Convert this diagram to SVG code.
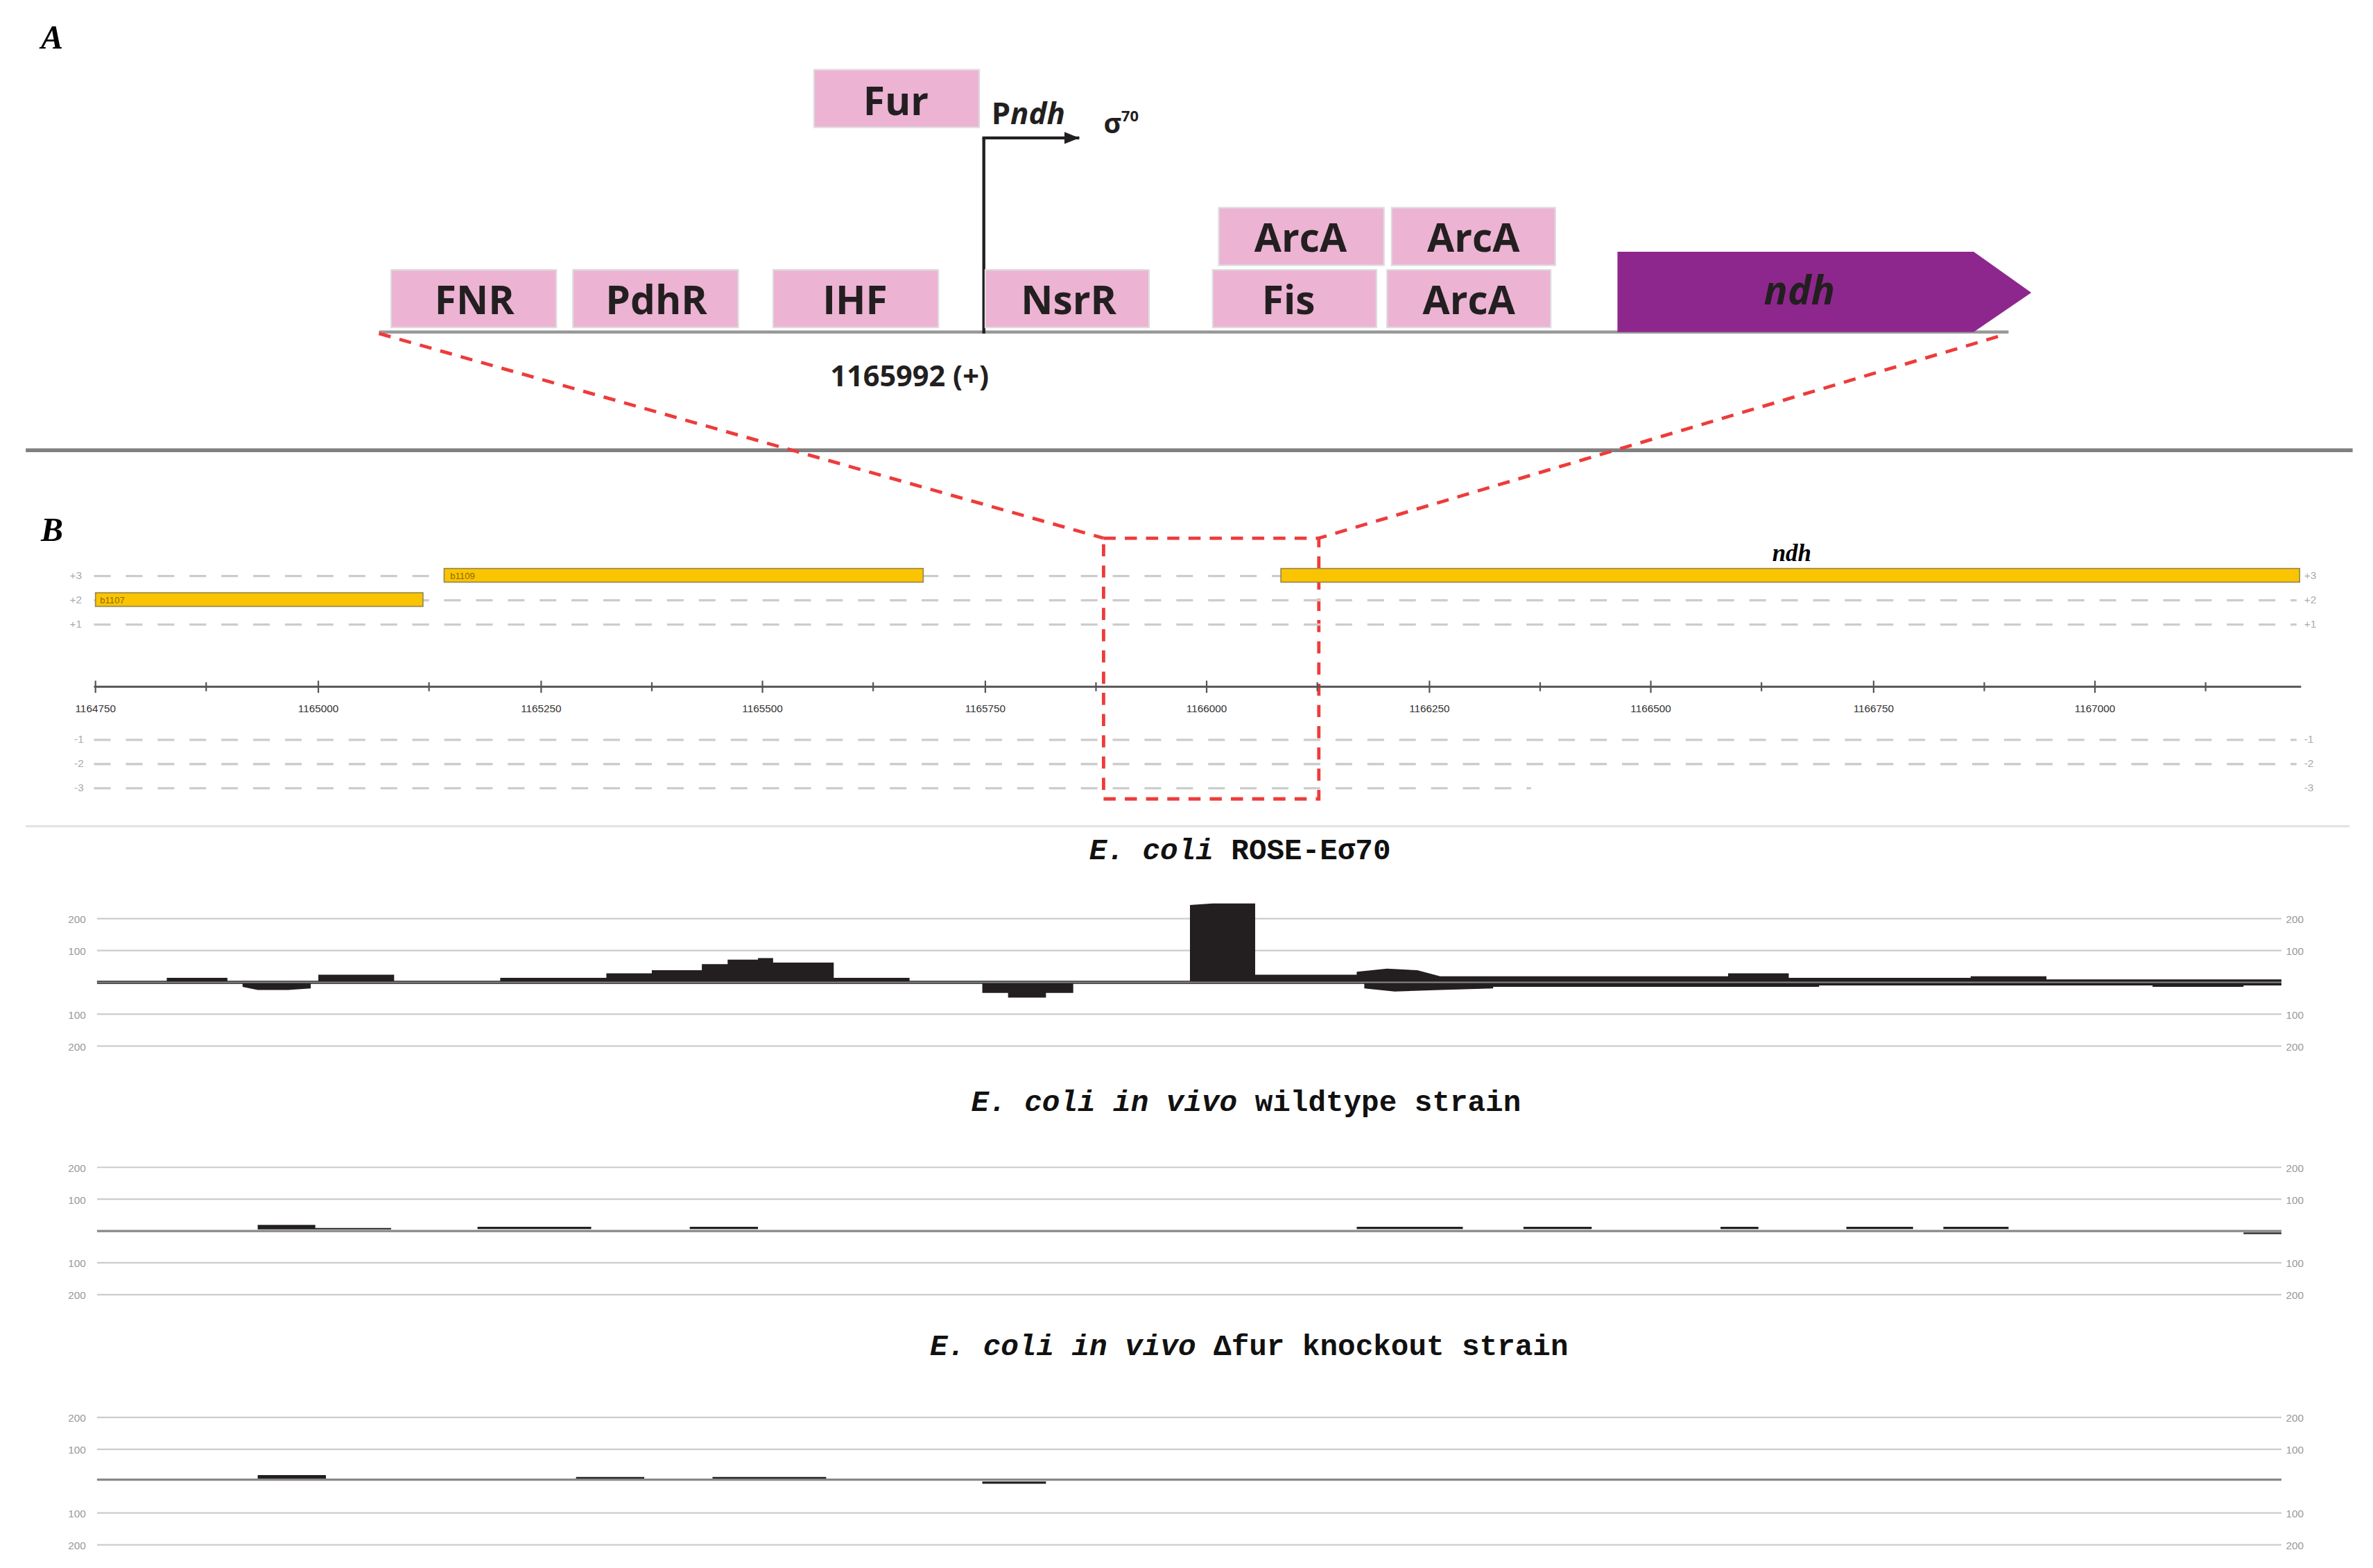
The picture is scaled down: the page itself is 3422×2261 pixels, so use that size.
<svg xmlns="http://www.w3.org/2000/svg" width="3422" height="2261" viewBox="0 0 3422 2261">
<defs>
<style>
.box{fill:#ecb3d3;stroke:#ddd;stroke-width:1}
.bt{font-family:"Open Sans","DejaVu Sans",sans-serif;font-weight:bold;font-size:26px;text-anchor:middle;fill:#231f20}
.red{stroke:#ee3b3b;stroke-width:2.2;stroke-dasharray:8,6;fill:none}
.fr{stroke:#ccc;stroke-width:1.5;stroke-dasharray:11,10}
.fl{font-family:"Liberation Sans",sans-serif;font-size:7px;fill:#aaa}
.ax{font-family:"Liberation Sans",sans-serif;font-size:7px;fill:#333;text-anchor:middle}
.gl{stroke:#ccc;stroke-width:1}
.gt{font-family:"Liberation Sans",sans-serif;font-size:7px;fill:#999}
.tt{font-family:"Liberation Mono","Courier New",monospace;font-weight:bold;font-size:19.5px;text-anchor:middle;fill:#111}
.gene{fill:#fbc400;stroke:#9a8a50;stroke-width:0.8}
.sig{fill:#231f20}
</style>
<marker id="ah" markerWidth="6" markerHeight="6" refX="5" refY="3" orient="auto"><path d="M0,1 L5,3 L0,5z" fill="#231f20"/></marker>
</defs>
<rect width="3422" height="2261" fill="#fff"/>
<g transform="scale(2.186)">
<text x="27" y="32" font-family="Liberation Serif,serif" font-weight="bold" font-style="italic" font-size="22">A</text>
<text x="27" y="357" font-family="Liberation Serif,serif" font-weight="bold" font-style="italic" font-size="22">B</text>
<g id="connectors">
<line x1="250" y1="219" x2="1325" y2="219" stroke="#999" stroke-width="2"/>
<line x1="649" y1="220" x2="649" y2="91" stroke="#231f20" stroke-width="2"/>
<line x1="648" y1="91" x2="712" y2="91" stroke="#231f20" stroke-width="2" marker-end="url(#ah)"/>
<line x1="17" y1="297" x2="1552" y2="297" stroke="#808080" stroke-width="2.5"/>
<path class="red" d="M250,220 L728,355 M1318,222 L870,355"/>
<rect class="red" x="728" y="355" width="142" height="172"/>
<line x1="17" y1="545" x2="1550" y2="545" stroke="#e2e2e8" stroke-width="1.5"/>
</g>
<g id="fur"><rect class="box" x="537" y="46" width="109" height="38"/><text class="bt" x="591" y="76">Fur</text></g>
<text x="654" y="82" font-family="Open Sans,sans-serif" font-weight="bold" font-size="20" fill="#231f20">P<tspan font-style="italic">ndh</tspan></text>
<text x="728" y="88" font-family="Open Sans,sans-serif" font-weight="bold" font-size="18" fill="#231f20">σ<tspan font-size="10" dy="-8">70</tspan></text>
<g id="fnr"><rect class="box" x="258" y="178" width="109" height="38"/><text class="bt" x="313" y="207">FNR</text></g>
<g id="pdhr"><rect class="box" x="378" y="178" width="109" height="38"/><text class="bt" x="433" y="207">PdhR</text></g>
<g id="ihf"><rect class="box" x="510" y="178" width="109" height="38"/><text class="bt" x="564" y="207">IHF</text></g>
<g id="nsrr"><rect class="box" x="650" y="178" width="108" height="38"/><text class="bt" x="705" y="207">NsrR</text></g>
<g id="fis"><rect class="box" x="800" y="178" width="108" height="38"/><text class="bt" x="850" y="207">Fis</text></g>
<g id="arca1"><rect class="box" x="915" y="178" width="108" height="38"/><text class="bt" x="969" y="207">ArcA</text></g>
<g id="arca2"><rect class="box" x="804" y="137" width="109" height="38"/><text class="bt" x="858" y="166">ArcA</text></g>
<g id="arca3"><rect class="box" x="918" y="137" width="108" height="38"/><text class="bt" x="972" y="166">ArcA</text></g>
<g id="ndh"><path d="M1067,166 L1302,166 L1340,193 L1302,219 L1067,219z" fill="#8e278d"/><text class="bt" x="1187" y="201" font-style="italic">ndh</text></g>
<text x="600" y="255" font-family="Open Sans,sans-serif" font-weight="bold" font-size="19" text-anchor="middle" fill="#231f20">1165992 (+)</text>

<g id="tracks">
<line class="fr" x1="62" y1="380" x2="1515" y2="380"/>
<line class="fr" x1="62" y1="396" x2="1515" y2="396"/>
<line class="fr" x1="62" y1="412" x2="1515" y2="412"/>
<line class="fr" x1="62" y1="488" x2="1515" y2="488"/>
<line class="fr" x1="62" y1="504" x2="1515" y2="504"/>
<line class="fr" x1="62" y1="520" x2="1010" y2="520"/>
<g class="fl"><text x="46" y="382">+3</text><text x="46" y="398">+2</text><text x="46" y="414">+1</text><text x="49" y="490">-1</text><text x="49" y="506">-2</text><text x="49" y="522">-3</text>
<text x="1520" y="382">+3</text><text x="1520" y="398">+2</text><text x="1520" y="414">+1</text><text x="1520" y="490">-1</text><text x="1520" y="506">-2</text><text x="1520" y="522">-3</text></g>
<rect class="gene" x="293" y="375" width="316" height="9"/><text x="297" y="382" font-family="Liberation Sans,sans-serif" font-size="6" fill="#8a6a00">b1109</text>
<rect class="gene" x="63" y="391" width="216" height="9"/><text x="66" y="398" font-family="Liberation Sans,sans-serif" font-size="6" fill="#8a6a00">b1107</text>
<rect class="gene" x="845" y="375" width="672" height="9"/>
<text x="1182" y="370" font-family="Liberation Serif,serif" font-weight="bold" font-style="italic" font-size="16" text-anchor="middle">ndh</text>
<line x1="62" y1="453" x2="1518" y2="453" stroke="#555" stroke-width="1.3"/>
<path d="M63,449v8M136,450v6M210,449v8M283,450v6M357,449v8M430,450v6M503,449v8M576,450v6M650,449v8M723,450v6M796,449v8M869,450v6M943,449v8M1016,450v6M1089,449v8M1162,450v6M1236,449v8M1309,450v6M1382,449v8M1455,450v6" stroke="#555" stroke-width="1"/>
<g class="ax"><text x="63" y="470">1164750</text><text x="210" y="470">1165000</text><text x="357" y="470">1165250</text><text x="503" y="470">1165500</text><text x="650" y="470">1165750</text><text x="796" y="470">1166000</text><text x="943" y="470">1166250</text><text x="1089" y="470">1166500</text><text x="1236" y="470">1166750</text><text x="1382" y="470">1167000</text></g>
</g>

<text class="tt" x="818" y="567"><tspan font-style="italic">E. coli</tspan> ROSE-Eσ70</text>
<text class="tt" x="822" y="733"><tspan font-style="italic">E. coli in vivo</tspan> wildtype strain</text>
<text class="tt" x="824" y="894"><tspan font-style="italic">E. coli in vivo</tspan> Δfur knockout strain</text>

<g id="track1">
<path class="gl" d="M64,606H1505M64,627H1505M64,669H1505M64,690H1505"/>
<path class="sig" d="M64,647 H110 V645 H150 V647 H210 V643 H260 V647 H330 V645 H400 V642 H430 V640 H463 V636 H480 V633 H500 V632 H510 V635 H550 V645 H600 V647 H785 V597 L800,596 L828,596 V643 H895 V641 L915,639 L935,640 L950,644 H1100 V644 H1140 V642 H1180 V645 H1300 V644 H1350 V646 H1505 V650 H1480 V651 H1420 V650 H1200 V651 H985 V652 L950,653 L920,654 L900,652 V649 H708 V655 H690 V658 H665 V655 H648 V649 H205 V652 L190,653 H170 L160,651 V649 H64z"/>
<line x1="64" y1="648" x2="1505" y2="648" stroke="#888" stroke-width="1"/>
<g class="gt"><text x="45" y="609">200</text><text x="45" y="630">100</text><text x="45" y="672">100</text><text x="45" y="693">200</text>
<text x="1508" y="609">200</text><text x="1508" y="630">100</text><text x="1508" y="672">100</text><text x="1508" y="693">200</text></g>
</g>
<g id="track2">
<path class="gl" d="M64,770H1505M64,791H1505M64,833H1505M64,854H1505"/>
<path class="sig" d="M64,811 H170 V808 H208 V810 H258 V811 H1505 V813 H1480 V814 H1505 V811 H64z"/>
<path d="M315,810H390M455,810H500M895,810H965M1005,810H1050M1135,810H1160M1218,810H1262M1282,810H1325" stroke="#231f20" stroke-width="1.5"/>
<line x1="64" y1="812" x2="1505" y2="812" stroke="#888" stroke-width="1.5"/>
<g class="gt"><text x="45" y="773">200</text><text x="45" y="794">100</text><text x="45" y="836">100</text><text x="45" y="857">200</text>
<text x="1508" y="773">200</text><text x="1508" y="794">100</text><text x="1508" y="836">100</text><text x="1508" y="857">200</text></g>
</g>
<g id="track3">
<path class="gl" d="M64,935H1505M64,956H1505M64,998H1505M64,1019H1505"/>
<path class="sig" d="M170,976 V973 H215 V976z"/>
<path d="M380,975H425M470,975H515M515,975H545M648,978H690" stroke="#231f20" stroke-width="1.5"/>
<line x1="64" y1="976" x2="1505" y2="976" stroke="#888" stroke-width="1.5"/>
<g class="gt"><text x="45" y="938">200</text><text x="45" y="959">100</text><text x="45" y="1001">100</text><text x="45" y="1022">200</text>
<text x="1508" y="938">200</text><text x="1508" y="959">100</text><text x="1508" y="1001">100</text><text x="1508" y="1022">200</text></g>
</g>
</g>
</svg>
